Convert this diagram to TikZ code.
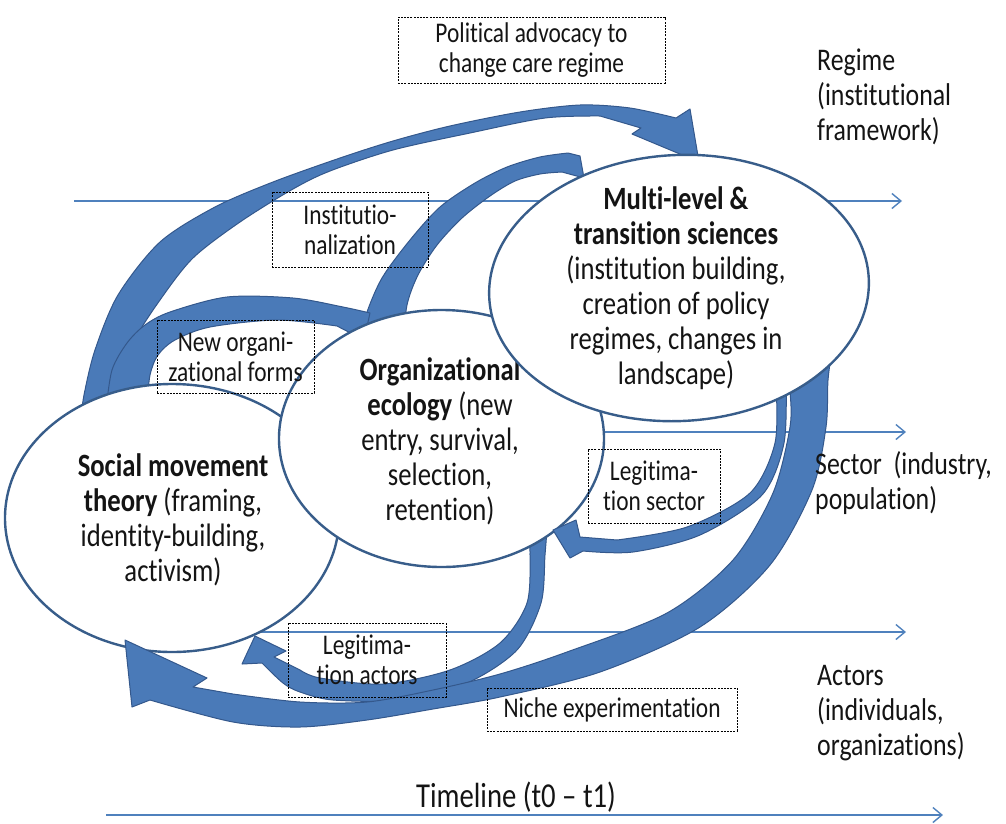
\documentclass[tikz,border=0pt]{standalone}
\usepackage{fontspec}
\setmainfont{Carlito}[FakeStretch=0.82, Ligatures=NoCommon]
\usetikzlibrary{shapes.geometric, arrows.meta}
\definecolor{lineblue}{RGB}{79,129,189}
\definecolor{rimblue}{RGB}{56,93,138}
\definecolor{bandblue}{RGB}{74,122,184}
\definecolor{bandrim}{RGB}{52,88,140}
\definecolor{ink}{RGB}{20,20,20}

\begin{document}
\begin{tikzpicture}[x=1pt, y=-1pt,
  level/.style={draw=lineblue, line width=1.4pt, -{Straight Barb[length=9pt,width=15pt,line width=1.4pt]}},
  theory/.style={ellipse, draw=rimblue, line width=2.4pt, fill=white, inner sep=0pt},
  band/.style={fill=bandblue, draw=bandrim, line width=1pt, line join=round},
  tag/.style={draw=black, line width=0.7pt, dash pattern=on 2pt off 1.2pt, align=center, inner sep=0pt, font=\fontsize{28.5}{30}\selectfont, text=ink},
  body/.style={align=center, inner sep=0pt, font=\fontsize{32.5}{35}\selectfont, text=ink},
  side/.style={align=left, anchor=west, inner sep=0pt, font=\fontsize{31.5}{35}\selectfont, text=ink},
]
\useasboundingbox (0,0) rectangle (1006,823);

% level lines
\coordinate (reg0) at (74,201);   \coordinate (reg1) at (902,201);
\coordinate (sec0) at (420,432);  \coordinate (sec1) at (906,432);
\coordinate (act0) at (150,632);  \coordinate (act1) at (906,632);
\coordinate (time0) at (106,815); \coordinate (time1) at (943,815);
\draw[level] (reg0) -- (reg1);
\draw[level] (sec0) -- (sec1);
\draw[level] (act0) -- (act1);
\draw[level] (time0) -- (time1);

% political advocacy band
\filldraw[band] plot[smooth] coordinates {(80,425) (84,395) (95,350) (118,295) (160,242) (215,207) (273,182) (340,158) (393,141) (450,126) (520,112) (580,105) (630,108) (676,118)}
  -- (690,109) -- (699,162) -- (632,134) -- (641,128)
  -- plot[smooth] coordinates {(600,116) (545,118) (470,133) (393,150) (330,171) (293,189) (240,222) (193,258) (160,300) (135,340) (122,385) (125,425)} -- cycle;

% institutionalization band
\filldraw[band] plot[smooth] coordinates {(360,345) (366,315) (382,278) (410,240) (440,207) (475,183) (507,167) (540,157) (568,153)}
  -- (580,156) -- (584,178)
  -- plot[smooth] coordinates {(562,172) (540,174) (515,181) (490,196) (462,218) (437,245) (418,275) (407,305) (403,345)} -- cycle;

% new organizational forms band
\filldraw[band] plot[smooth] coordinates {(106,410) (112,370) (127,343) (145,325) (170,312) (227,297) (293,298) (343,307) (370,313)}
  -- (364,340)
  -- plot[smooth] coordinates {(337,326) (277,320) (210,327) (175,340) (158,355) (150,375) (147,405)} -- cycle;

% social movement theory
\node[theory, minimum width=334pt, minimum height=268pt] (sm) at (172,518) {};
\node[body] (smtext) at (173,520) {\textbf{Social movement}\\\textbf{theory} (framing,\\identity-building,\\activism)};

% legitimation actors band
\filldraw[band] plot[smooth] coordinates {(547,530) (545,555) (541,603) (517,650) (467,683) (400,700) (333,700) (300,692) (283,683) (262,663)}
  -- (242,664) -- (255,636) -- (286,651) -- (274,657)
  -- plot[smooth] coordinates {(300,670) (320,678) (383,684) (450,670) (500,643) (527,603) (530,552) (528,530)} -- cycle;

% organizational ecology
\node[theory, minimum width=325pt, minimum height=257pt] (oe) at (441.5,438.5) {};
\node[body] (oetext) at (440,441) {\textbf{Organizational}\\\textbf{ecology} (new\\entry, survival,\\selection,\\retention)};

% legitimation sector band
\filldraw[band] plot[smooth] coordinates {(786,380) (784,443) (762,495) (700,535) (633,552) (583,551)}
  -- (570,558) -- (553,530) -- (576,520) -- (580,537)
  -- plot[smooth] coordinates {(617,540) (687,527) (750,493) (775,443) (776,385)} -- cycle;

% niche experimentation band
\filldraw[band] plot[smooth] coordinates {(832,350) (828,380) (826,427) (812,490) (770,565) (700,627) (600,672) (500,697) (433,709) (367,720) (300,727) (233,722) (150,700)}
  -- (132,707) -- (125,640) -- (207,678) -- (193,687)
  -- plot[smooth] coordinates {(233,694) (300,702) (367,702) (433,690) (500,674) (567,652) (667,613) (733,560) (773,493) (790,427) (790,390) (788,370)} -- cycle;

% multi-level & transition sciences
\node[theory, minimum width=380pt, minimum height=266pt, rotate=3] (mlt) at (679,288) {};
\node[body] (mlttext) at (676,288) {\textbf{Multi-level \&}\\\textbf{transition sciences}\\(institution building,\\creation of policy\\regimes, changes in\\landscape)};

% mechanism labels
\node[tag, minimum width=267pt, minimum height=66pt] (advocacy) at (531.5,50) {Political advocacy to\\change care regime};
\node[tag, minimum width=156pt, minimum height=75pt] (instbox) at (350,229.5) {Institutio-\\nalization};
\node[tag, minimum width=157pt, minimum height=73pt] (orgbox) at (235.5,356.5) {New organi-\\zational forms};
\node[tag, minimum width=132pt, minimum height=74pt] (secbox) at (654,486) {Legitima-\\tion sector};
\node[tag, minimum width=158pt, minimum height=74pt] (actbox) at (367,660) {Legitima-\\tion actors};
\node[tag, minimum width=250pt, minimum height=43pt] (nichebox) at (612,709.5) {Niche experimentation};

% level labels
\node[side] (regime) at (817,97) {Regime\\(institutional\\framework)};
\node[side] (sector) at (815,483) {Sector\ \ (industry,\\population)};
\node[side] (actors) at (817,713) {Actors\\(individuals,\\organizations)};
\node[inner sep=0pt, text=ink, font=\fontsize{35}{35}\selectfont] (timeline) at (516,797) {Timeline (t0 – t1)};
\end{tikzpicture}
\end{document}
